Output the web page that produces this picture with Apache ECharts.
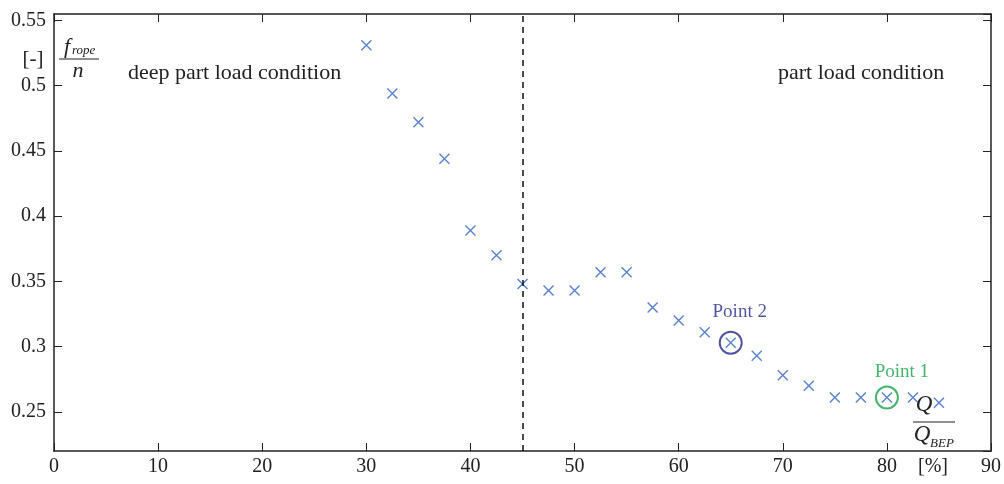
<!DOCTYPE html>
<html>
<head>
<meta charset="utf-8">
<script src="https://cdn.jsdelivr.net/npm/echarts@6/dist/echarts.min.js"></script>
<style>html,body{margin:0;padding:0;background:#fff}#c{width:1004px;height:484px}</style>
</head>
<body>
<div id="c"></div>
<script>
const flowPercent = [30, 32.5, 35, 37.5, 40, 42.5, 45, 47.5, 50, 52.5, 55, 57.5, 60, 62.5, 65, 67.5, 70, 72.5, 75, 77.5, 80, 82.5, 85];
const fropeOverN = [0.531, 0.494, 0.472, 0.444, 0.389, 0.370, 0.348, 0.343, 0.343, 0.357, 0.357, 0.330, 0.320, 0.311, 0.303, 0.293, 0.278, 0.270, 0.261, 0.261, 0.261, 0.261, 0.257];
const point1Index = 20; // Q/Q_BEP = 80
const point2Index = 14; // Q/Q_BEP = 65
const boundaryX = 45;
const regionLabels = ['deep part load condition', 'part load condition'];

const serif = 'Liberation Serif';
const chart = echarts.init(document.getElementById('c'), null, {renderer: 'canvas'});
const pts = flowPercent.map((x, i) => [x, fropeOverN[i]]);
const axisCommon = {
  axisLine: {show: true, onZero: false, lineStyle: {color: '#222', width: 1.5}},
  axisTick: {show: true, inside: true, length: 8, lineStyle: {color: '#222', width: 1}},
  splitLine: {show: false}
};
const crossPath = 'path://M0,0L10,10M10,0L0,10';
chart.setOption({
  animation: false,
  backgroundColor: '#fff',
  grid: {left: 54, right: 12, top: 14, bottom: 33, containLabel: false},
  xAxis: [
    Object.assign({type: 'value', min: 0, max: 90, interval: 10, position: 'bottom',
      axisLabel: {color: '#222', fontFamily: serif, fontSize: 20, margin: 6}}, axisCommon),
    Object.assign({type: 'value', min: 0, max: 90, interval: 10, position: 'top',
      axisLabel: {show: false}}, axisCommon)
  ],
  yAxis: [
    Object.assign({type: 'value', min: 0.22, max: 0.555, splitNumber: 7, minInterval: 0.05, maxInterval: 0.05, position: 'left',
      axisLabel: {color: '#222', fontFamily: serif, fontSize: 20, margin: 8, showMinLabel: false, showMaxLabel: false,
        formatter: v => String(+v.toFixed(2))}}, axisCommon),
    Object.assign({type: 'value', min: 0.22, max: 0.555, splitNumber: 7, minInterval: 0.05, maxInterval: 0.05, position: 'right',
      axisLabel: {show: false}}, axisCommon)
  ],
  series: [
    {
      type: 'scatter', data: pts, symbol: crossPath, symbolSize: 10,
      itemStyle: {color: 'transparent', borderColor: '#2f63c2', borderWidth: 1.4},
      markLine: {
        silent: true, symbol: ['none', 'none'], label: {show: false},
        lineStyle: {color: '#111', type: [6, 5], width: 1.5},
        data: [{xAxis: boundaryX}]
      },
      z: 3
    },
    {
      type: 'scatter', data: [pts[point2Index]], symbol: 'emptyCircle', symbolSize: 22,
      itemStyle: {color: '#262a8a', borderColor: '#262a8a', borderWidth: 2},
      label: {show: true, formatter: 'Point 2', position: 'top', distance: 9, offset: [9, 0],
        color: '#262a8a', fontFamily: serif, fontSize: 19},
      z: 2
    },
    {
      type: 'scatter', data: [pts[point1Index]], symbol: 'emptyCircle', symbolSize: 22,
      itemStyle: {color: '#15a34a', borderColor: '#15a34a', borderWidth: 2},
      label: {show: true, formatter: 'Point 1', position: 'top', distance: 4, offset: [15, 0],
        color: '#15a34a', fontFamily: serif, fontSize: 19},
      z: 2
    }
  ],
  graphic: [
    {type: 'text', left: 128, top: 62, style: {text: regionLabels[0], font: '22px "Liberation Serif"', fill: '#222'}},
    {type: 'text', left: 778, top: 62, style: {text: regionLabels[1], font: '22px "Liberation Serif"', fill: '#222'}},
    {type: 'text', x: 33, y: 59, style: {text: '[-]', font: '21px "Liberation Serif"', fill: '#222', align: 'center', verticalAlign: 'middle'}},
    {type: 'text', x: 67, y: 47, style: {text: 'f', font: 'italic 22px "Liberation Serif"', fill: '#222', align: 'center', verticalAlign: 'middle'}},
    {type: 'text', x: 72, y: 51, style: {text: 'rope', font: 'italic 13px "Liberation Serif"', fill: '#222', align: 'left', verticalAlign: 'middle'}},
    {type: 'line', shape: {x1: 59, y1: 59, x2: 99, y2: 59}, style: {stroke: '#222', lineWidth: 1.2}},
    {type: 'text', x: 78, y: 71, style: {text: 'n', font: 'italic 22px "Liberation Serif"', fill: '#222', align: 'center', verticalAlign: 'middle'}},
    {type: 'text', x: 924, y: 405, style: {text: 'Q', font: 'italic 23px "Liberation Serif"', fill: '#222', align: 'center', verticalAlign: 'middle'}},
    {type: 'line', shape: {x1: 913, y1: 422, x2: 955, y2: 422}, style: {stroke: '#222', lineWidth: 1.2}},
    {type: 'text', x: 922, y: 435, style: {text: 'Q', font: 'italic 23px "Liberation Serif"', fill: '#222', align: 'center', verticalAlign: 'middle'}},
    {type: 'text', x: 930, y: 444, style: {text: 'BEP', font: 'italic 13px "Liberation Serif"', fill: '#222', align: 'left', verticalAlign: 'middle'}},
    {type: 'text', x: 933, y: 467, style: {text: '[%]', font: '20px "Liberation Serif"', fill: '#222', align: 'center', verticalAlign: 'middle'}}
  ]
});
</script>
</body>
</html>
